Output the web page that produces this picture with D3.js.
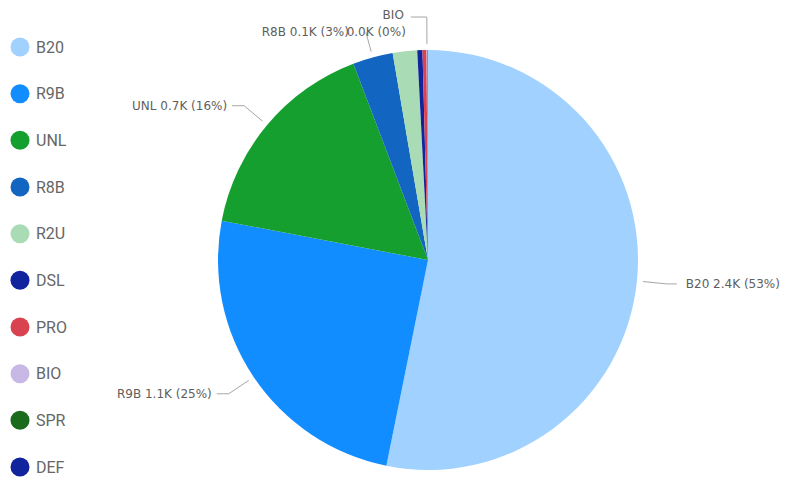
<!DOCTYPE html>
<html>
<head>
<meta charset="utf-8">
<script src="https://cdn.jsdelivr.net/npm/d3@7"></script>
<style>
  html, body { margin: 0; padding: 0; background: #fff; }
  svg { display: block; font-family: Roboto, "Open Sans", sans-serif; }
</style>
</head>
<body>
<svg id="chart" width="799" height="479"></svg>
<script>
// Fuel product volumes
const categories = ["B20", "R9B", "UNL", "R8B", "R2U", "DSL", "PRO", "BIO", "SPR", "DEF"];
const values     = [2410, 1125, 735, 140, 85, 18, 14, 3, 1, 1];
const colors     = ["#A0D1FF", "#118DFF", "#159F2E", "#1266C1", "#A9DBB5", "#12239E", "#D9434F", "#C7B8E6", "#1B6B1F", "#12239E"];
// slices that carry a data label
const labelled   = ["B20", "R9B", "UNL", "R8B", "BIO"];

const svg = d3.select("#chart");
const cx = 428, cy = 260, R = 210;

const data = categories.map((c, i) => ({ name: c, value: values[i], color: colors[i] }));
const total = d3.sum(values);

const pie = d3.pie().value(d => d.value).sort(null);
const arc = d3.arc().innerRadius(0).outerRadius(R);
const arcs = pie(data);

const g = svg.append("g").attr("transform", `translate(${cx},${cy})`);

g.selectAll("path.slice")
  .data(arcs)
  .enter().append("path")
  .attr("class", "slice")
  .attr("d", arc)
  .attr("fill", d => d.data.color);

// point on a ray from the centre at a given angle (0 = 12 o'clock, clockwise)
const polar = (a, r) => [Math.sin(a) * r, -Math.cos(a) * r];

const fmt = d => `${(d.data.value / 1000).toFixed(1)}K (${Math.round(d.data.value / total * 100)}%)`;

const labelColor = "#605E5C";
const lineColor = "#A6A6A6";
const labelFont = "'DejaVu Sans', Verdana, sans-serif";

arcs.filter(d => labelled.includes(d.data.name)).forEach(d => {
  const mid = (d.startAngle + d.endAngle) / 2;
  const name = d.data.name;
  const p0 = polar(mid, R + 6);
  const lbl = g.append("g");
  const text = lbl.append("text")
    .attr("fill", labelColor)
    .attr("font-family", labelFont)
    .attr("font-size", 12)
    .attr("dominant-baseline", "central");

  if (name === "BIO") {
    // narrow slice at the top: vertical leader, label wrapped onto two lines
    const p1 = polar(mid, R + 33);
    const p2 = [p1[0] - 16, p1[1]];
    lbl.append("polyline")
      .attr("points", [p0, p1, p2].map(p => p.join(",")).join(" "))
      .attr("fill", "none").attr("stroke", lineColor).attr("stroke-width", 1);
    text.attr("text-anchor", "end");
    text.append("tspan").attr("x", p2[0] - 7).attr("y", p2[1] - 2).text(name);
    text.append("tspan").attr("x", p2[0] - 5).attr("y", p2[1] + 15).text(fmt(d));
  } else if (name === "R8B") {
    const p1 = polar(mid, R + 26);
    lbl.append("polyline")
      .attr("points", [p0, p1].map(p => p.join(",")).join(" "))
      .attr("fill", "none").attr("stroke", lineColor).attr("stroke-width", 1);
    text.attr("text-anchor", "end")
      .attr("x", p1[0] - 17).attr("y", p1[1])
      .text(`${name} ${fmt(d)}`);
  } else {
    const p1 = polar(mid, R + 30);
    const right = p1[0] > 0;
    const p2 = [p1[0] + (right ? 10 : -12), p1[1]];
    lbl.append("polyline")
      .attr("points", [p0, p1, p2].map(p => p.join(",")).join(" "))
      .attr("fill", "none").attr("stroke", lineColor).attr("stroke-width", 1);
    text.attr("text-anchor", right ? "start" : "end")
      .attr("x", p2[0] + (right ? 9 : -5)).attr("y", p2[1])
      .text(`${name} ${fmt(d)}`);
  }
});

// legend down the left edge
const legendY = d3.scalePoint().domain(categories).range([47, 467]);
const legend = svg.append("g");
const item = legend.selectAll("g.item")
  .data(data)
  .enter().append("g")
  .attr("class", "item")
  .attr("transform", d => `translate(20,${legendY(d.name)})`);
item.append("circle").attr("r", 9.5).attr("fill", d => d.color);
item.append("text")
  .attr("x", 16).attr("y", 0)
  .attr("dominant-baseline", "central")
  .attr("font-size", 16)
  .attr("fill", "#666666")
  .text(d => d.name);
</script>
</body>
</html>
